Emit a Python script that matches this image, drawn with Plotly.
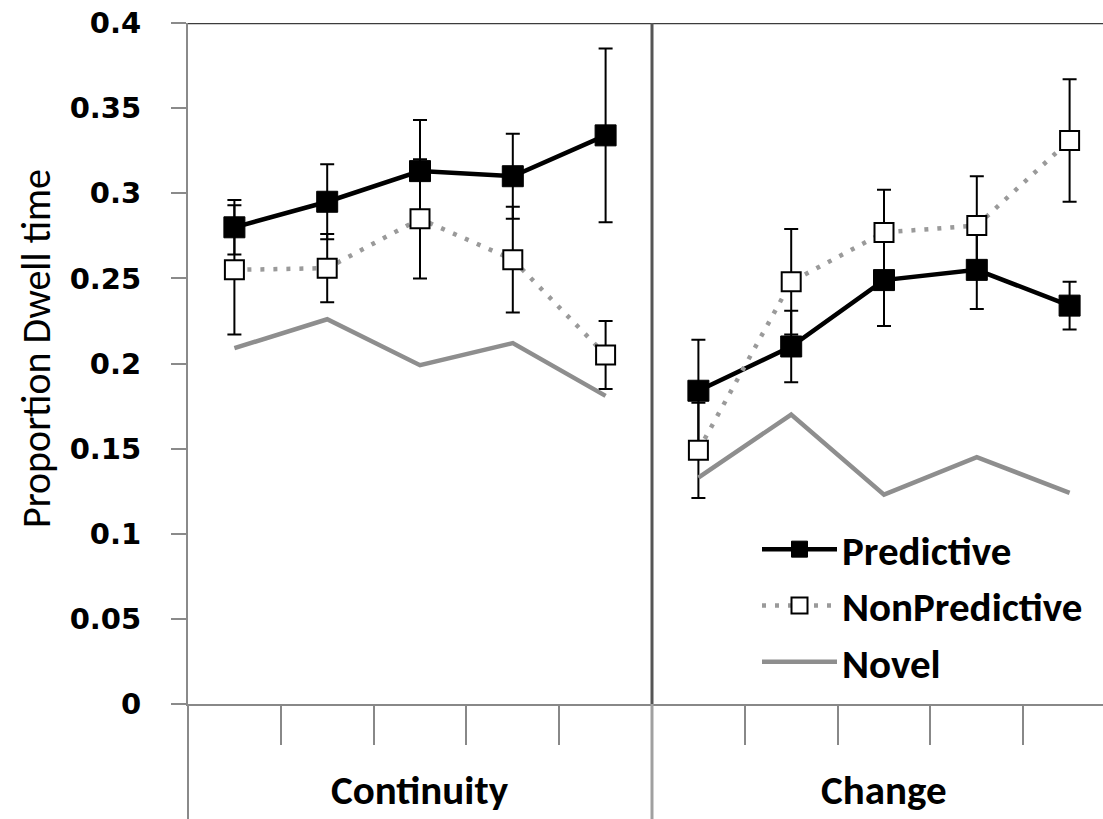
import plotly.graph_objects as go

# ---------------- data ----------------
groups = ["Continuity", "Change"]
n_per_group = 5

pred_continuity = [0.280, 0.295, 0.313, 0.310, 0.334]
pred_change = [0.184, 0.210, 0.249, 0.255, 0.234]
pred_err_continuity = [0.016, 0.022, 0.030, 0.025, 0.051]
pred_err_change = [0.030, 0.021, 0.027, 0.023, 0.014]

nonpred_continuity = [0.255, 0.256, 0.285, 0.261, 0.205]
nonpred_change = [0.149, 0.248, 0.277, 0.281, 0.331]
nonpred_err_continuity = [0.038, 0.020, 0.035, 0.031, 0.020]
nonpred_err_change = [0.028, 0.031, 0.025, 0.029, 0.036]

novel_continuity = [0.209, 0.226, 0.199, 0.212, 0.181]
novel_change = [0.133, 0.170, 0.123, 0.145, 0.124]

y_ticks = [0, 0.05, 0.1, 0.15, 0.2, 0.25, 0.3, 0.35, 0.4]
y_tick_labels = ["0", "0.05", "0.1", "0.15", "0.2", "0.25", "0.3", "0.35", "0.4"]

# ---------------- helpers ----------------
xs = list(range(n_per_group)) + [None] + list(range(n_per_group, 2 * n_per_group))


def joined(a, b):
    return list(a) + [None] + list(b)


W, H = 1103, 819
L, T = 188, 23
slot = 92.8
x_lo = -0.5
x_hi = x_lo + (W - L) / slot
y_dom0 = (H - 704) / (H - T)

CAL = "Calibri, Carlito, Lato, sans-serif"

fig = go.Figure()

fig.add_trace(go.Scatter(
    x=xs, y=joined(pred_continuity, pred_change), name="Predictive",
    mode="lines+markers", connectgaps=False,
    line=dict(color="black", width=4.5),
    marker=dict(symbol="square", size=21, color="black", line=dict(color="black", width=1)),
    error_y=dict(type="data", array=joined(pred_err_continuity, pred_err_change),
                 color="black", thickness=2, width=7),
    legendgroup="a",
))
fig.add_trace(go.Scatter(
    x=xs, y=joined(nonpred_continuity, nonpred_change), name="NonPredictive",
    mode="lines+markers", connectgaps=False,
    line=dict(color="#9a9a9a", width=4.5, dash="4px,9px"),
    marker=dict(symbol="square", size=19, color="white", line=dict(color="black", width=2)),
    error_y=dict(type="data", array=joined(nonpred_err_continuity, nonpred_err_change),
                 color="black", thickness=2, width=7),
    legendgroup="b",
))
fig.add_trace(go.Scatter(
    x=xs, y=joined(novel_continuity, novel_change), name="Novel",
    mode="lines", connectgaps=False,
    line=dict(color="#8e8e8e", width=4.5),
    legendgroup="c",
))

shapes = [
    dict(type="line", xref="paper", yref="y", x0=0, x1=1, y0=0.4, y1=0.4,
         line=dict(color="#3c3c3c", width=2.5)),
    dict(type="line", xref="x", yref="y", x0=4.5, x1=4.5, y0=0, y1=0.4,
         line=dict(color="#555555", width=3)),
    dict(type="line", xref="x", yref="paper", x0=4.5, x1=4.5, y0=0, y1=y_dom0,
         line=dict(color="#a0a0a0", width=3)),
    dict(type="line", xref="paper", yref="paper", x0=0, x1=0, y0=0, y1=y_dom0,
         line=dict(color="#8a8a8a", width=2)),
]

annotations = [
    dict(text="<b>%s</b>" % g, x=(i * n_per_group + (n_per_group - 1) / 2), xref="x",
         y=(H - 790) / (H - T), yref="paper", showarrow=False,
         font=dict(family=CAL, size=41, color="black"), xanchor="center", yanchor="middle")
    for i, g in enumerate(groups)
]
annotations.append(dict(
    text="Proportion Dwell time", textangle=-90, xref="paper", yref="paper",
    x=(36 - L) / (W - L), y=(H - 349) / (H - T), showarrow=False,
    font=dict(family=CAL, size=40, color="black"), xanchor="center", yanchor="middle"))

fig.update_layout(
    width=W, height=H, template="none",
    margin=dict(l=L, r=0, t=T, b=0, pad=0),
    paper_bgcolor="white", plot_bgcolor="white",
    showlegend=True,
    legend=dict(x=(757 - L) / (W - L), y=(H - 516) / (H - T), xanchor="left", yanchor="top",
                font=dict(family=CAL, size=41, color="black", weight="bold"),
                bgcolor="rgba(0,0,0,0)", borderwidth=0, tracegroupgap=9,
                itemwidth=75, traceorder="normal"),
    xaxis=dict(range=[x_lo, x_hi], showgrid=False, zeroline=False,
               showline=True, linecolor="#888888", linewidth=2,
               ticks="outside", ticklen=39, tickwidth=1.5, tickcolor="#888888",
               tickvals=[0.5, 1.5, 2.5, 3.5, 5.5, 6.5, 7.5, 8.5],
               showticklabels=False, fixedrange=True),
    yaxis=dict(range=[0, 0.4], domain=[y_dom0, 1], showgrid=False, zeroline=False,
               showline=True, linecolor="#8a8a8a", linewidth=2,
               ticks="outside", ticklen=15, tickwidth=1.5, tickcolor="#8a8a8a",
               tickvals=y_ticks, ticktext=y_tick_labels, ticklabelstandoff=24,
               tickfont=dict(family="DejaVu Sans", size=29, color="black", weight="bold"),
               fixedrange=True),
    shapes=shapes, annotations=annotations,
)

fig.write_html("out.html")
